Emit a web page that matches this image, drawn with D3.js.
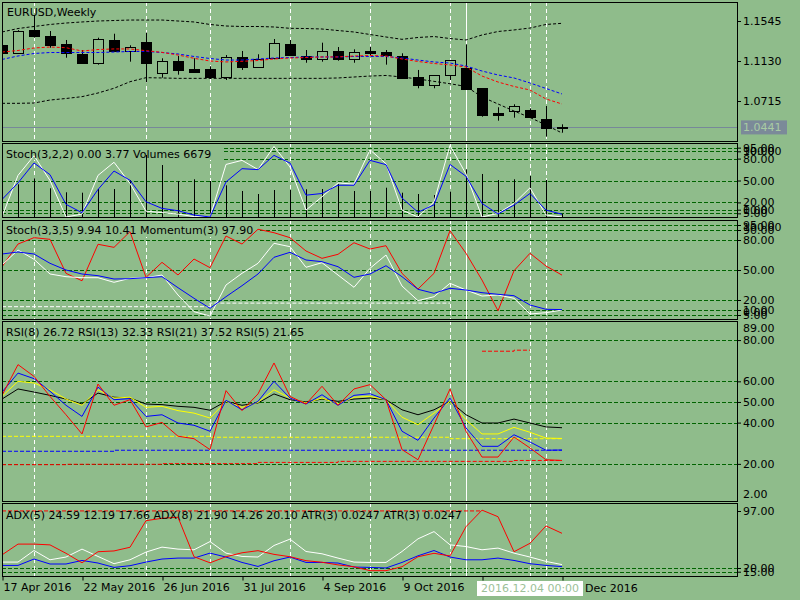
<!DOCTYPE html>
<html><head><meta charset="utf-8">
<script src="https://cdn.jsdelivr.net/npm/d3@7"></script>
<style>
html,body{margin:0;padding:0;background:#8FBC8B;}
svg{display:block;}
text{font-family:"DejaVu Sans",sans-serif;font-size:11px;}
</style>
</head><body>
<svg id="c" width="800" height="600"></svg>
<script>
// ---------- DATA ----------
const dates = ["2016-04-17","2016-04-24","2016-05-01","2016-05-08","2016-05-15","2016-05-22","2016-05-29","2016-06-05","2016-06-12","2016-06-19","2016-06-26","2016-07-03","2016-07-10","2016-07-17","2016-07-24","2016-07-31","2016-08-07","2016-08-14","2016-08-21","2016-08-28","2016-09-04","2016-09-11","2016-09-18","2016-09-25","2016-10-02","2016-10-09","2016-10-16","2016-10-23","2016-10-30","2016-11-06","2016-11-13","2016-11-20","2016-11-27","2016-12-04","2016-12-11","2016-12-18"];
const timeTickIdx = [0,5,10,15,20,25,30,35];
// labels as visible in the picture (13 Nov hidden by the cursor box, "18 " of 18 Dec hidden too)
const timeLabelIdx = [0,5,10,15,20,25];
const timeLabels = ["17 Apr 2016","22 May 2016","26 Jun 2016","31 Jul 2016","4 Sep 2016","9 Oct 2016"];
const partialLabelIdx = 35;
const partialLabel = "Dec 2016";

const open  = [1.1296,1.1210,1.1452,1.1389,1.1306,1.1203,1.1106,1.1348,1.1237,1.1327,1.1002,1.1130,1.1047,1.1047,1.0961,1.1168,1.1071,1.1158,1.1306,1.1182,1.1148,1.1231,1.1148,1.1234,1.1220,1.1182,1.0961,1.0878,1.0982,1.1054,1.0847,1.0594,1.0608,1.0618,1.0531,1.0445];
const high  = [1.1320,1.1450,1.1607,1.1441,1.1348,1.1244,1.1372,1.1413,1.1293,1.1424,1.1158,1.1182,1.1158,1.1075,1.1192,1.1234,1.1200,1.1358,1.1348,1.1244,1.1320,1.1275,1.1251,1.1278,1.1244,1.1210,1.1037,1.0982,1.1137,1.1303,1.0847,1.0650,1.0681,1.0639,1.0663,1.0473];
const low   = [1.1190,1.1205,1.1372,1.1268,1.1164,1.1106,1.1092,1.1234,1.1123,1.0909,1.0957,1.0988,1.1019,1.0946,1.0933,1.1037,1.1071,1.1148,1.1189,1.1112,1.1123,1.1133,1.1112,1.1192,1.1092,1.0946,1.0847,1.0847,1.0933,1.0840,1.0552,1.0511,1.0542,1.0542,1.0345,1.0386];
const close = [1.1213,1.1444,1.1393,1.1299,1.1216,1.1106,1.1355,1.1234,1.1272,1.1112,1.1130,1.1037,1.1019,1.0967,1.1168,1.1071,1.1148,1.1314,1.1189,1.1148,1.1231,1.1148,1.1220,1.1216,1.1189,1.0957,1.0878,1.0982,1.1137,1.0840,1.0573,1.0573,1.0660,1.0552,1.0438,1.0441];

const bbUpper = [1.1431,1.1467,1.1488,1.1509,1.1524,1.1535,1.1545,1.1550,1.1555,1.1555,1.1555,1.1545,1.1535,1.1509,1.1493,1.1488,1.1488,1.1483,1.1469,1.1467,1.1462,1.1446,1.1431,1.1405,1.1379,1.1355,1.1374,1.1384,1.1363,1.1348,1.1400,1.1436,1.1452,1.1472,1.1509,1.1521];
const bbLower = [1.0691,1.0691,1.0694,1.0725,1.0741,1.0760,1.0798,1.0847,1.0915,1.0957,1.0954,1.0950,1.0950,1.0950,1.0950,1.0950,1.0950,1.0950,1.0950,1.0950,1.0950,1.0954,1.0964,1.0974,1.0980,1.0964,1.0943,1.0919,1.0894,1.0866,1.0757,1.0684,1.0611,1.0544,1.0466,1.0383];
const maRed  = [1.1223,1.1239,1.1265,1.1275,1.1268,1.1234,1.1249,1.1255,1.1255,1.1237,1.1220,1.1192,1.1158,1.1130,1.1120,1.1127,1.1135,1.1151,1.1161,1.1166,1.1172,1.1172,1.1182,1.1187,1.1182,1.1151,1.1125,1.1104,1.1089,1.1068,1.0974,1.0912,1.0866,1.0829,1.0736,1.0684];
const maBlue = [1.1146,1.1182,1.1208,1.1218,1.1218,1.1218,1.1218,1.1223,1.1229,1.1229,1.1218,1.1203,1.1177,1.1156,1.1140,1.1140,1.1151,1.1161,1.1166,1.1172,1.1172,1.1172,1.1177,1.1177,1.1177,1.1161,1.1140,1.1120,1.1109,1.1078,1.1026,1.0985,1.0954,1.0902,1.0845,1.0788];
const lastPrice = 1.0441;
const priceTicks = [1.1545,1.1130,1.0715];

const volumes = [60200,72700,86000,63800,54900,54000,62200,62200,82200,137800,115500,80000,83800,80000,70400,57800,51100,60000,60000,61600,62200,73300,57800,57800,65100,54000,51100,48900,56200,106000,95600,82200,83800,91100,82200,6679];
const stoch1Main   = [0.4,57,84,50,0,4,57,75,46,8,6,4,0.5,0,72,77.6,65,96.6,68.5,9.5,27.7,46.7,45,92,73,9.5,0,20.8,98,59,0,5,18.6,40,2.7,0];
const stoch1Signal = [24,46.7,74,58,17.3,5.9,37.7,63,50.3,20.9,11.8,8.6,2.7,0,48,66.2,64.9,84.4,73.9,29.9,32.2,43.5,43.5,77.6,71.7,26,6.5,16.7,72,55.8,18.6,4.1,16.3,32.2,9.5,3.77];

const stoch2Main   = [55,70,60.7,46,43.3,42.3,42.3,37.7,41.7,42.3,45,25,8.3,4,35,46.7,56.7,76.7,73.3,52.7,57.3,45,32.7,51.7,65,34,19.3,23.3,36.7,30,24,25,21.7,6,7.3,9.94];
const stoch2Signal = [66,68,66,56.7,50,46,44.3,41,41.3,42.3,43.3,32.3,21.7,11.7,23.3,34.3,46,62.7,67.7,60,58.3,53.3,42.7,46,54.3,43.3,30.7,26.7,31.7,30,27.3,25.7,24.3,15,10.7,10.41];
const stoch2Band   = [13.3,13.3,13.3,13.3,13.3,13.3,13.3,13.3,13.3,13.3,13.3,13.3,13.3,16.9,16.9,16.9,16.9,16.9,16.9,16.9,16.9,16.9,16.9,16.9,16.9,16.9,16.9,16.9,16.9,null,null,null,null,null,null,null];
const momentum     = [98.61,100.53,101.07,100.93,98.05,97.42,100.51,100.25,101.58,97.71,98.98,97.91,99.26,98.53,101.21,100.53,101.78,101.49,101.07,99.94,99.32,99.66,100.64,100.11,100.39,98.05,96.72,98.05,101.66,99.75,97.48,94.88,98.27,99.75,98.67,97.90];

const rsi5  = [53.2,68.1,62.4,52.7,43.8,34.5,58.7,48.4,51.1,37.9,40.1,33.4,32.2,26.9,55.5,45.8,53.9,68.9,52.7,49.0,57.6,48.4,56.3,58.4,51.1,26.9,22.0,39.0,56.3,35.8,23.3,23.3,33.0,27.7,22.0,21.65];
const rsi8  = [54.8,64.0,61.3,55.2,48.4,43.0,57.2,51.1,51.6,43.0,43.8,39.8,38.7,35.8,50.8,46.2,50.3,60.0,51.9,49.0,53.5,48.4,53.2,54.0,51.1,35.8,31.4,42.2,51.9,37.4,28.5,28.5,34.1,30.6,26.6,26.72];
const rsi13 = [52.7,60.0,59.2,55.9,51.4,48.4,55.9,51.9,52.3,47.4,47.9,45.8,44.6,42.2,50.3,47.4,49.8,55.9,51.9,49.5,51.9,49.0,52.3,52.7,51.1,42.6,39.0,44.6,50.3,41.4,34.5,34.5,37.7,35.3,32.5,32.33];
const rsi21 = [51.4,56.3,54.8,53.2,51.4,49.0,54.3,52.3,51.9,49.0,48.7,47.9,47.4,46.0,50.3,48.4,49.5,53.9,51.1,50.0,51.4,50.3,51.4,51.9,51.1,46.2,43.8,46.2,50.3,43.8,39.8,39.8,41.7,39.8,37.9,37.52];
const rsiYellowLow = [33.35,33.35,33.35,33.35,33.35,33.35,33.35,33.35,33.35,33.35,33.35,33.35,33.35,32.9,32.9,32.9,32.9,32.9,32.9,32.9,32.9,32.9,32.9,32.9,32.9,32.9,32.9,32.9,32.2,32.2,32.2,32.2,32.2,32.2,32.2,32.2];
const rsiBlueLow   = [26.1,26.1,26.1,26.1,26.1,26.1,26.1,26.6,26.6,26.6,26.6,26.6,26.6,26.6,26.6,26.6,26.6,26.6,26.6,26.6,26.6,26.6,26.6,26.6,26.6,26.6,26.6,26.6,26.6,26.6,26.6,26.6,26.6,26.6,26.6,26.6];
const rsiRedLow    = [19.6,19.6,19.6,19.6,19.8,19.8,19.8,19.8,19.8,19.8,20.1,20.1,20.1,20.1,20.1,20.1,20.7,20.7,20.7,20.7,20.7,21.2,21.2,21.2,21.2,21.2,21.2,21.2,21.2,21.2,21.2,21.2,21.65,21.65,21.65,21.65];
const rsiRedHigh   = [null,null,null,null,null,null,null,null,null,null,null,null,null,null,null,null,null,null,null,null,null,null,null,null,null,null,null,null,null,null,74.6,74.6,75.1,75.1,null,null];

const adxWhite = [28.0,28.0,43.6,31.1,34.8,45.5,35.6,25.8,31.1,41.5,48.2,45.5,44.6,55.7,40.1,35.6,34.8,50.4,59.0,42.3,39.2,33.4,28.0,27.5,27.5,42.3,59.4,69.2,51.3,49.0,44.6,46.9,40.1,34.8,28.9,24.59];
const adxBlue  = [23.5,23.5,32.1,25.4,25.4,30.2,26.7,20.8,23.1,28.0,32.1,33.4,33.4,40.1,34.8,27.5,22.1,29.8,34.8,27.5,27.5,26.7,21.3,20.8,20.0,27.5,36.5,43.6,34.8,31.1,31.1,33.4,30.2,25.8,23.5,21.90];
const atr      = [0.0165,0.0206,0.0206,0.0203,0.0171,0.0135,0.0177,0.0180,0.0194,0.0295,0.0304,0.0308,0.0158,0.0135,0.0158,0.0173,0.0181,0.0167,0.0158,0.0143,0.0137,0.0127,0.0120,0.0105,0.0105,0.0120,0.0158,0.0171,0.0161,0.0272,0.0335,0.0310,0.0177,0.0209,0.0275,0.0247];
const atrHigh  = [0.0332,0.0332,0.0332,0.0332,0.0332,0.0332,0.0332,0.0332,0.0332,0.0332,0.0332,0.0332,0.0332,0.0332,0.0332,0.0332,0.0332,0.0332,0.0332,0.0332,0.0332,0.0332,0.0332,0.0332,0.0332,0.0332,0.0332,0.0332,0.0332,0.0332,0.0332,null,null,null,null,null];

const markerIdx = [2,9,13,18,23,28,33,34];
const cursorIdx = 29;
const crossIdx = 33;
const crossLabel = "2016.12.04 00:00";

const stochLevels = [95,90,80,50,20,10,5];
const rsiLevels = [80,60,50,40,20];
const adxLevels = [20,15];
const adxTicks = [97,20,15];

// ---------- STYLE ----------
const BG = "#8FBC8B", LEVEL = "#006400", SLATE = "#778899";
const LEFT = 2, RIGHT = 737;
const P = {
  main:{top:2,bottom:141},
  st1:{top:143,bottom:217},
  st2:{top:220,bottom:319},
  rsi:{top:321,bottom:501},
  adx:{top:503,bottom:576}
};

const svg = d3.select("#c");
svg.append("rect").attr("width",800).attr("height",600).attr("fill",BG);

const x = d3.scalePoint().domain(dates).range([2,562]);
const yPrice = d3.scaleLinear().domain([1.0715,1.1545]).range([101,21]);
const ySt1 = d3.scaleLinear().domain([0,100]).range([217,144]);
const yVol = d3.scaleLinear().domain([0,160000]).range([217,145]);
const ySt2 = d3.scaleLinear().domain([0,100]).range([320,220]);
const yMom = d3.scaleLinear().domain([97.9,100]).range([275.1,250.3]);
const yRsi = d3.scaleLinear().domain([2,89]).range([501,321.5]);
const yAdx = d3.scaleLinear().domain([15,97]).range([571.7,511]);
const yAtr = d3.scaleLinear().domain([0.0100,0.0247]).range([572,533.3]);

const G = {};
Object.entries(P).forEach(([k,p])=>{
  svg.append("clipPath").attr("id","clip-"+k).append("rect")
    .attr("x",LEFT).attr("y",p.top).attr("width",RIGHT-LEFT).attr("height",p.bottom-p.top);
  G[k] = svg.append("g").attr("clip-path",`url(#clip-${k})`);
});

function levels(g, vals, sc){
  g.selectAll(null).data(vals).enter().append("line")
    .attr("x1",LEFT).attr("x2",RIGHT)
    .attr("y1",d=>Math.round(sc(d))+0.5).attr("y2",d=>Math.round(sc(d))+0.5)
    .attr("stroke",LEVEL).attr("stroke-dasharray","4,2");
}
function verticals(g, p){
  g.selectAll(null).data(markerIdx).enter().append("line")
    .attr("x1",d=>x(dates[d])+0.5).attr("x2",d=>x(dates[d])+0.5)
    .attr("y1",p.top).attr("y2",p.bottom)
    .attr("stroke","#fff").attr("stroke-dasharray","4,3");
  g.append("line").attr("x1",x(dates[cursorIdx])+0.5).attr("x2",x(dates[cursorIdx])+0.5)
    .attr("y1",p.top).attr("y2",p.bottom).attr("stroke","#fff");
}
function series(g, vals, sc, color, dash, step){
  const ln = d3.line().defined(d=>d!=null).x((d,i)=>x(dates[i])).y(d=>sc(d));
  if(step) ln.curve(d3.curveStepAfter);
  g.append("path").attr("d",ln(vals)).attr("fill","none").attr("stroke",color)
    .attr("stroke-width",1).attr("stroke-dasharray",dash||null);
}
function labelBg(g, x2, y1, y2){
  g.append("rect").attr("x",LEFT+1).attr("y",y1).attr("width",x2-LEFT-1).attr("height",y2-y1).attr("fill",BG);
}
function title(txt, y, xx){
  svg.append("text").attr("x",xx||6).attr("y",y).attr("dominant-baseline","central").attr("fill","#000").text(txt);
}
function rightAxis(sc, ticks, fmt){
  const g = svg.append("g").attr("transform",`translate(${RIGHT},0)`)
    .call(d3.axisRight(sc).tickValues(ticks).tickSize(4).tickPadding(2).tickFormat(d3.format(fmt)));
  g.select(".domain").remove();
  g.selectAll("text").attr("font-size",11).attr("font-family","DejaVu Sans").attr("fill","#000");
  g.selectAll("line").attr("stroke","#000");
  return g;
}
function extraLabel(txt, y){
  svg.append("text").attr("x",RIGHT+6).attr("y",y).attr("dominant-baseline","central").text(txt);
}

// ---------- MAIN PANEL ----------
{
  const g = G.main;
  verticals(g, P.main);
  g.append("line").attr("x1",LEFT).attr("x2",RIGHT)
    .attr("y1",Math.round(yPrice(lastPrice))+0.5).attr("y2",Math.round(yPrice(lastPrice))+0.5)
    .attr("stroke",SLATE);
  const idx = d3.range(dates.length);
  g.selectAll(".wick").data(idx).enter().append("line")
    .attr("x1",i=>x(dates[i])+0.5).attr("x2",i=>x(dates[i])+0.5)
    .attr("y1",i=>yPrice(high[i])).attr("y2",i=>yPrice(low[i]))
    .attr("stroke","#000");
  g.selectAll(".body").data(idx).enter().append("rect")
    .attr("x",i=>x(dates[i])-4.5)
    .attr("y",i=>Math.round(yPrice(Math.max(open[i],close[i])))+0.5)
    .attr("width",10)
    .attr("height",i=>Math.max(1,Math.round(yPrice(Math.min(open[i],close[i])))-Math.round(yPrice(Math.max(open[i],close[i])))))
    .attr("fill",i=>close[i]<open[i]?"#000":BG)
    .attr("stroke","#000");
  series(g, bbUpper, yPrice, "#000", "3,2");
  series(g, bbLower, yPrice, "#000", "3,2");
  series(g, maBlue, yPrice, "#0000FF", "3,2");
  series(g, maRed, yPrice, "#FF0000", "3,2");
}
title("EURUSD,Weekly", 12, 7);
rightAxis(yPrice, priceTicks, ".4f");
{
  const yy = yPrice(lastPrice);
  svg.append("rect").attr("x",741).attr("y",yy-7).attr("width",46).attr("height",14).attr("fill","#7B8A99");
  svg.append("text").attr("x",743).attr("y",yy).attr("dominant-baseline","central").attr("fill","#A9CCA3").text(d3.format(".4f")(lastPrice));
}

// ---------- STOCH(3,2,2) + VOLUMES ----------
{
  const g = G.st1;
  levels(g, stochLevels, ySt1);
  verticals(g, P.st1);
  labelBg(g, 223, P.st1.top+1, 160);
  g.selectAll(".vol").data(volumes).enter().append("line")
    .attr("x1",(d,i)=>x(dates[i])+0.5).attr("x2",(d,i)=>x(dates[i])+0.5)
    .attr("y1",yVol(0)).attr("y2",d=>yVol(d)).attr("stroke","#000");
  series(g, stoch1Main, ySt1, "#FFFFFF");
  series(g, stoch1Signal, ySt1, "#0000FF");
}
title("Stoch(3,2,2) 0.00 3.77 Volumes 6679", 154);
rightAxis(ySt1, stochLevels, ".2f");
extraLabel("100.00", 151);
extraLabel("0.00", 210);

// ---------- STOCH(3,3,5) + MOMENTUM ----------
{
  const g = G.st2;
  levels(g, stochLevels, ySt2);
  verticals(g, P.st2);
  labelBg(g, 260, P.st2.top+1, 237);
  series(g, stoch2Band, ySt2, "#FFFFFF", "4,2", true);
  series(g, momentum, yMom, "#FF0000");
  series(g, stoch2Main, ySt2, "#FFFFFF");
  series(g, stoch2Signal, ySt2, "#0000FF");
}
title("Stoch(3,3,5) 9.94 10.41 Momentum(3) 97.90", 230);
rightAxis(ySt2, stochLevels, ".2f");
extraLabel("100.00", 227);
extraLabel("0.00", 312);

// ---------- RSI ----------
{
  const g = G.rsi;
  levels(g, rsiLevels, yRsi);
  verticals(g, P.rsi);
  series(g, rsiYellowLow, yRsi, "#FFFF00", "4,2", true);
  series(g, rsiBlueLow, yRsi, "#0000FF", "4,2", true);
  series(g, rsiRedLow, yRsi, "#FF0000", "4,2", true);
  series(g, rsiRedHigh, yRsi, "#FF0000", "4,2", true);
  series(g, rsi21, yRsi, "#000000");
  series(g, rsi13, yRsi, "#FFFF00");
  series(g, rsi8, yRsi, "#0000FF");
  series(g, rsi5, yRsi, "#FF0000");
}
title("RSI(8) 26.72 RSI(13) 32.33 RSI(21) 37.52 RSI(5) 21.65", 332);
rightAxis(yRsi, rsiLevels, ".2f");
extraLabel("89.00", 328.5);
extraLabel("2.00", 494);

// ---------- ADX / ATR ----------
{
  const g = G.adx;
  levels(g, adxLevels, yAdx);
  verticals(g, P.adx);
  series(g, atrHigh, yAtr, "#FF0000", "4,2", true);
  series(g, adxWhite, yAdx, "#FFFFFF");
  series(g, adxBlue, yAdx, "#0000FF");
  series(g, atr, yAtr, "#FF0000");
}
title("ADX(5) 24.59 12.19 17.66 ADX(8) 21.90 14.26 20.10 ATR(3) 0.0247 ATR(3) 0.0247", 515);
rightAxis(yAdx, adxTicks, ".2f");

// ---------- BORDERS ----------
Object.values(P).forEach(p=>{
  svg.append("rect").attr("x",LEFT+0.5).attr("y",p.top+0.5)
    .attr("width",RIGHT-LEFT).attr("height",p.bottom-p.top)
    .attr("fill","none").attr("stroke","#000");
});

// ---------- TIME AXIS ----------
{
  const g = svg.append("g").attr("transform",`translate(0,${P.adx.bottom+0.5})`)
    .call(d3.axisBottom(x).tickValues(timeTickIdx.map(i=>dates[i])).tickSize(4).tickPadding(3)
      .tickFormat(d=>{const j=timeLabelIdx.indexOf(dates.indexOf(d)); return j>=0?timeLabels[j]:"";}));
  g.select(".domain").remove();
  g.selectAll("line").attr("stroke","#000").attr("transform","translate(0.5,0)");
  g.selectAll("text").attr("text-anchor","start").attr("x",1)
    .attr("font-size",11).attr("font-family","DejaVu Sans").attr("fill","#000");
  const cx = x(dates[crossIdx]);
  svg.append("rect").attr("x",cx-53).attr("y",581).attr("width",106).attr("height",15).attr("fill","#FFFFFF");
  svg.append("text").attr("x",cx).attr("y",588.5).attr("text-anchor","middle")
    .attr("dominant-baseline","central").attr("fill","#9CBF98").text(crossLabel);
  svg.append("text").attr("x",cx+55).attr("y",588.5).attr("dominant-baseline","central")
    .attr("fill","#000").text(partialLabel);
}
</script>
</body></html>
